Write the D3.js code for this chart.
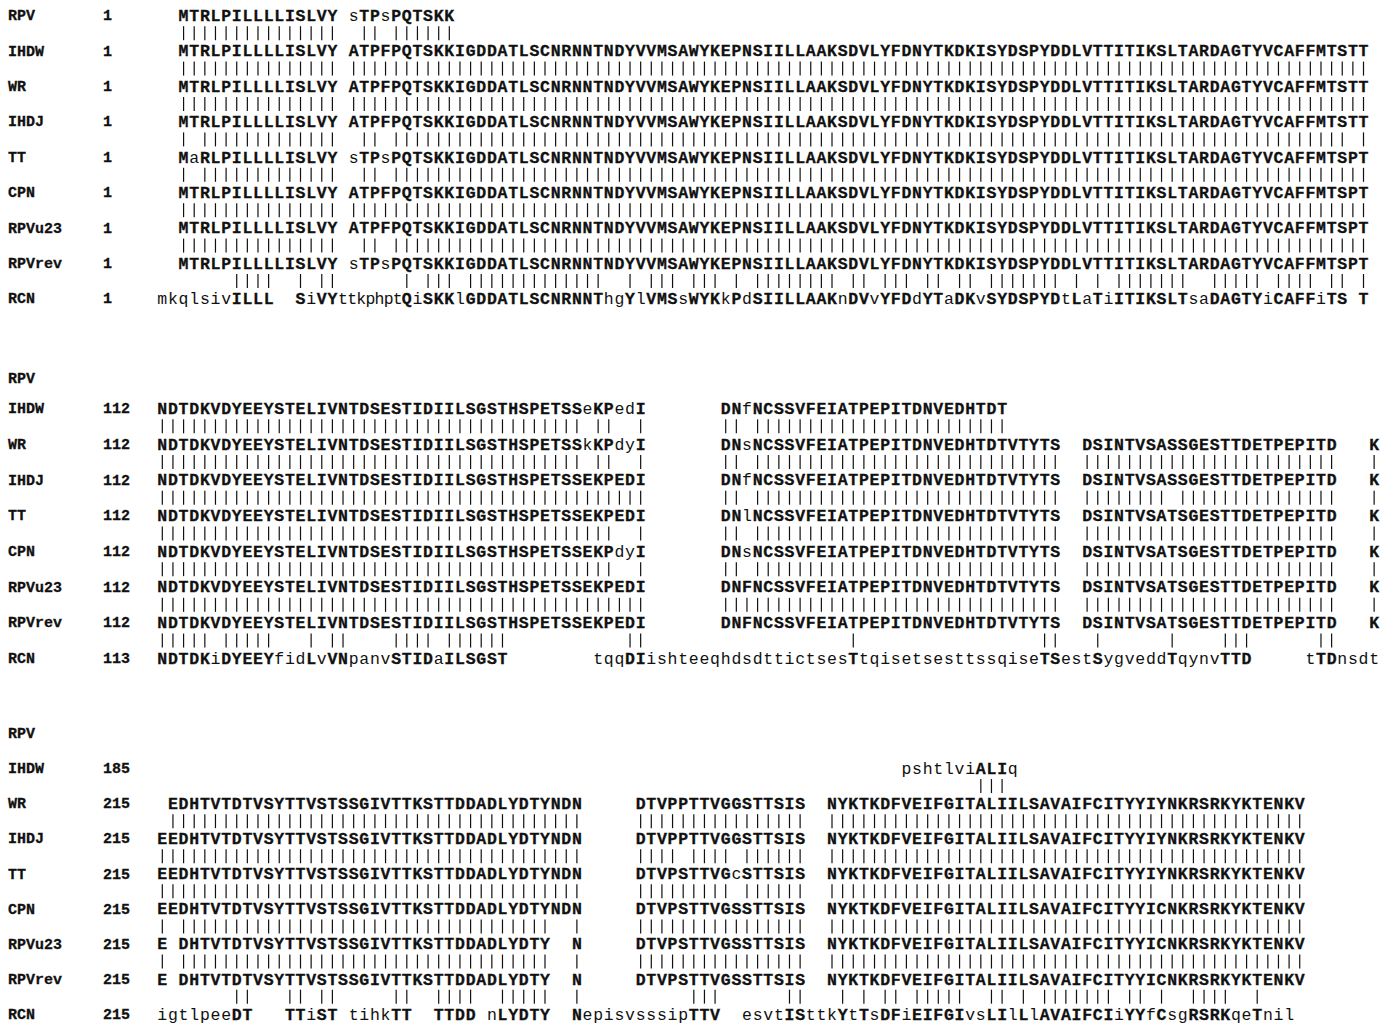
<!DOCTYPE html>
<html>
<head>
<meta charset="utf-8">
<script src="https://cdn.jsdelivr.net/npm/d3@7"></script>
<style>
  body { margin: 0; background: #fff; }
  text { font-family: "Liberation Mono", "DejaVu Sans Mono", monospace; fill: #111; }
  text.bold { stroke: #111; stroke-width: 0.3; }
</style>
</head>
<body>
<div id="chart"></div>
<script>
const names = ["RPV", "IHDW", "WR", "IHDJ", "TT", "CPN", "RPVu23", "RPVrev", "RCN"];

// first residue number of each row, per block (null = no number printed)
const block1Start = [1, 1, 1, 1, 1, 1, 1, 1, 1];
const block2Start = [null, 112, 112, 112, 112, 112, 112, 112, 113];
const block3Start = [null, 185, 215, 215, 215, 215, 215, 215, 215];

// segments: [alignment column, residues, (optional) columns the run is squeezed into]
const b1Long = "IGDDATLSCNRNNTNDYVVMSAWYKEPNSIILLAAKSDVLYFDNYTKDKISYDSPYDDLVTTITIKSLTARDAGTYVCAFFMTS";
const block1Seqs = [
  [[0, "MTRLPILLLLISLVY"], [16, "sTPsPQTSKK"]],
  [[0, "MTRLPILLLLISLVY"], [16, "ATPFPQTSKK" + b1Long + "TT"]],
  [[0, "MTRLPILLLLISLVY"], [16, "ATPFPQTSKK" + b1Long + "TT"]],
  [[0, "MTRLPILLLLISLVY"], [16, "ATPFPQTSKK" + b1Long + "TT"]],
  [[0, "MaRLPILLLLISLVY"], [16, "sTPsPQTSKK" + b1Long + "PT"]],
  [[0, "MTRLPILLLLISLVY"], [16, "ATPFPQTSKK" + b1Long + "PT"]],
  [[0, "MTRLPILLLLISLVY"], [16, "ATPFPQTSKK" + b1Long + "PT"]],
  [[0, "MTRLPILLLLISLVY"], [16, "sTPsPQTSKK" + b1Long + "PT"]],
  [[-2, "mkqlsivILLL"], [11, "SiVY"], [15, "ttkphpt", 6],
   [21, "QiSKKlGDDATLSCNRNNThgYlVMSsWYKkPdSIILLAAKnDVvYFDdYTaDKvSYDSPYDtLaTiITIKSLTsaDAGTYiCAFFiTS"],
   [111, "T"]]
];

const b2Head = "NDTDKVDYEEYSTELIVNTDSESTIDIILSGSTHSPETSS";
const b2Mid = "NCSSVFEIATPEPITDNVEDHTDT";
const block2Seqs = [
  [],
  [[0, b2Head + "eKPedI"], [53, "DNf" + b2Mid]],
  [[0, b2Head + "kKPdyI"], [53, "DNs" + b2Mid + "VTYTS"], [87, "DSINTVSASSGESTTDETPEPITD"], [114, "K"]],
  [[0, b2Head + "EKPEDI"], [53, "DNf" + b2Mid + "VTYTS"], [87, "DSINTVSASSGESTTDETPEPITD"], [114, "K"]],
  [[0, b2Head + "EKPEDI"], [53, "DNl" + b2Mid + "VTYTS"], [87, "DSINTVSATSGESTTDETPEPITD"], [114, "K"]],
  [[0, b2Head + "EKPdyI"], [53, "DNs" + b2Mid + "VTYTS"], [87, "DSINTVSATSGESTTDETPEPITD"], [114, "K"]],
  [[0, b2Head + "EKPEDI"], [53, "DNF" + b2Mid + "VTYTS"], [87, "DSINTVSATSGESTTDETPEPITD"], [114, "K"]],
  [[0, b2Head + "EKPEDI"], [53, "DNF" + b2Mid + "VTYTS"], [87, "DSINTVSATSGESTTDETPEPITD"], [114, "K"]],
  [[0, "NDTDKiDYEEYfidLvVNpanvSTIDaILSGST"],
   [41, "tqqDIishteeqhdsdttictsesTtqisetsesttssqiseTSestSygveddTqynvTTD"],
   [108, "tTDnsdt"]]
];

const b3Body = "DHTVTDTVSYTTVSTSSGIVTTKSTTDDADLYDTY";
const b3TailY = "NKRSRKYKTENKV";
const block3Seqs = [
  [],
  [[70, "pshtlviALIq"]],
  [[1, "E" + b3Body + "NDN"], [45, "DTVPPTTVGGSTTSIS"], [63, "NYKTKDFVEIFGITALIILSAVAIFCITYYIY" + b3TailY]],
  [[0, "EE" + b3Body + "NDN"], [45, "DTVPPTTVGGSTTSIS"], [63, "NYKTKDFVEIFGITALIILSAVAIFCITYYIY" + b3TailY]],
  [[0, "EE" + b3Body + "NDN"], [45, "DTVPSTTVGcSTTSIS"], [63, "NYKTKDFVEIFGITALIILSAVAIFCITYYIY" + b3TailY]],
  [[0, "EE" + b3Body + "NDN"], [45, "DTVPSTTVGSSTTSIS"], [63, "NYKTKDFVEIFGITALIILSAVAIFCITYYIC" + b3TailY]],
  [[0, "E"], [2, b3Body], [39, "N"], [45, "DTVPSTTVGSSTTSIS"], [63, "NYKTKDFVEIFGITALIILSAVAIFCITYYIC" + b3TailY]],
  [[0, "E"], [2, b3Body], [39, "N"], [45, "DTVPSTTVGSSTTSIS"], [63, "NYKTKDFVEIFGITALIILSAVAIFCITYYIC" + b3TailY]],
  [[0, "igtlpeeDT"], [12, "TTiST"], [18, "tihkTT"], [26, "TTDD"], [31, "nLYDTY"],
   [39, "NepisvsssipTTV"], [55, "esvtISttkYtTsDFiEIFGIvsLIlLlAVAIFCIiYYfCsgRSRKqeTnil"]]
];

// ---- layout ----
const width = 1389, height = 1033;
const cw = 10.63;
const x = d3.scaleLinear().domain([0, 1]).range([157 + cw / 2, 157 + cw * 1.5]);

const blocks = [
  { starts: block1Start, seqs: block1Seqs, offset: 2, y: i => 15 + i * 35.4 },
  { starts: block2Start, seqs: block2Seqs, offset: 0, y: i => i === 0 ? 378 : 408 + (i - 1) * 35.7 },
  { starts: block3Start, seqs: block3Seqs, offset: 0, y: i => i === 0 ? 733 : 768 + (i - 1) * 35.1 }
];

const svg = d3.select("#chart").append("svg")
  .attr("width", width)
  .attr("height", height);

blocks.forEach(b => {
  const g = svg.append("g");

  const rows = names.map((n, i) => {
    const chars = [];
    const cols = new Map();
    b.seqs[i].forEach(([c, s, span]) => {
      const step = span ? span / s.length : 1;
      s.split("").forEach((ch, k) => {
        const col = c + k * step;
        chars.push({ col: col, ch: ch });
        if (!span) cols.set(col, ch);
      });
    });
    return { name: n, start: b.starts[i], y: b.y(i), chars: chars, cols: cols };
  });

  // row labels and numbers
  g.selectAll("text.name").data(rows).enter().append("text")
    .attr("class", "name bold")
    .attr("x", 8).attr("y", d => d.y).attr("dy", "0.35em")
    .attr("font-size", 15).attr("font-weight", "bold")
    .text(d => d.name);

  g.selectAll("text.num").data(rows.filter(d => d.start != null)).enter().append("text")
    .attr("class", "num bold")
    .attr("x", 103).attr("y", d => d.y).attr("dy", "0.35em")
    .attr("font-size", 15).attr("font-weight", "bold")
    .text(d => d.start);

  // residues: upper case bold, lower case plain
  rows.forEach(r => {
    g.selectAll(null).data(r.chars).enter().append("text")
      .attr("class", d => d.ch === d.ch.toLowerCase() ? "res" : "res bold")
      .attr("x", d => x(d.col + b.offset))
      .attr("y", r.y).attr("dy", "0.36em")
      .attr("text-anchor", "middle")
      .attr("font-size", 16.5)
      .attr("font-weight", d => d.ch === d.ch.toLowerCase() ? "normal" : "bold")
      .text(d => d.ch);
  });

  // identity bars between neighbouring rows
  for (let i = 0; i < rows.length - 1; i++) {
    const a = rows[i], c = rows[i + 1];
    const ids = [];
    a.cols.forEach((ch, col) => { if (c.cols.get(col) === ch) ids.push(col); });
    const ym = (a.y + c.y) / 2 + 0.5;
    g.selectAll(null).data(ids).enter().append("line")
      .attr("x1", d => x(d + b.offset)).attr("x2", d => x(d + b.offset))
      .attr("y1", ym - 7).attr("y2", ym + 7)
      .attr("stroke", "#111").attr("stroke-width", 1.2);
  }
});
</script>
</body>
</html>
